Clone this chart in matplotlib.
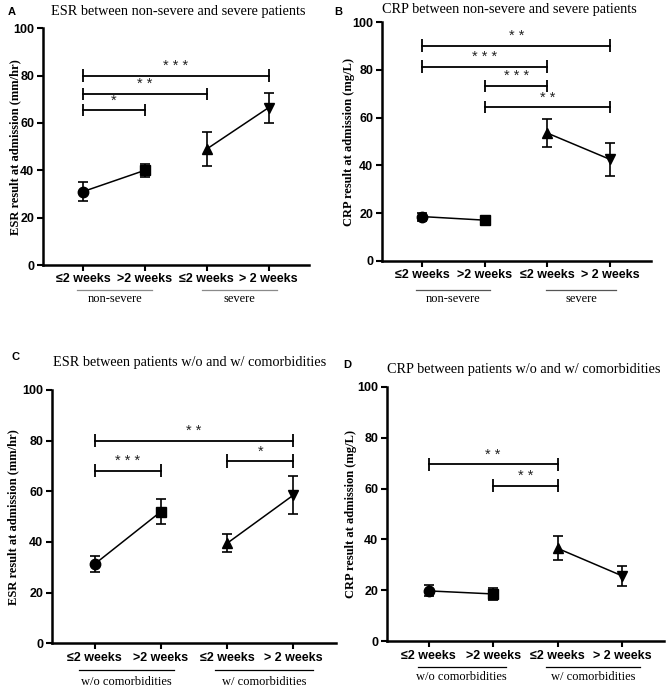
import numpy as np
import matplotlib
matplotlib.use("Agg")
import matplotlib.pyplot as plt
from matplotlib.transforms import blended_transform_factory

plt.rcParams['font.family'] = ['Liberation Sans', 'DejaVu Sans']

# ---- data ----
categories = ["≤2 weeks", ">2 weeks", "≤2 weeks", "> 2 weeks"]

esr_sev_mean = [31.0, 40.0, 49.0, 66.5]
esr_sev_err = [3.9, 2.8, 7.2, 6.3]
crp_sev_mean = [18.5, 17.0, 53.5, 42.5]
crp_sev_err = [1.7, 0.8, 6.0, 7.0]
esr_com_mean = [31.3, 52.0, 39.5, 58.5]
esr_com_err = [3.1, 5.0, 3.5, 7.4]
crp_com_mean = [19.8, 18.6, 36.5, 25.7]
crp_com_err = [2.2, 2.3, 4.7, 3.9]

# brackets: (from, to, y, label)
esr_sev_sig = [(0, 3, 80.0, "***"), (0, 2, 72.3, "**"), (0, 1, 65.6, "*")]
crp_sev_sig = [(0, 3, 90.2, "**"), (0, 2, 81.4, "***"), (1, 2, 73.4, "***"), (1, 3, 64.5, "**")]
esr_com_sig = [(0, 3, 80.0, "**"), (0, 1, 68.2, "***"), (2, 3, 72.0, "*")]
crp_com_sig = [(0, 2, 69.5, "**"), (1, 2, 61.1, "**")]

sev_groups = ["non-severe", "severe"]
com_groups = ["w/o comorbidities", "w/ comorbidities"]

markers = ["o", "s", "^", "v"]
W, H = 669, 688

fig = plt.figure(figsize=(W / 100, H / 100), dpi=100)


def panel(box, letter, letter_xy, title, title_xy, ylabel, ylabel_x, means, errs,
          sigs, groups, spans, line_px, text_px, line_color):
    left, top, right, bottom = box
    ax = fig.add_axes([left / W, 1 - bottom / H, (right - left) / W, (bottom - top) / H])
    x = np.arange(len(means))
    for a, b in [(0, 2), (2, 4)]:
        ax.plot(x[a:b], means[a:b], color="black", lw=1.1, zorder=2)
    for i in range(len(means)):
        ax.errorbar(x[i], means[i], yerr=errs[i], fmt=markers[i], color="black",
                    ms=7.5 if markers[i] != "s" else 7, capsize=3.5, elinewidth=1.2,
                    capthick=1.2, zorder=3)
    for a, b, y, lab in sigs:
        ax.plot([a, b], [y, y], color="black", lw=1.3)
        ax.vlines([a, b], y - 2.6, y + 2.6, color="black", lw=1.3)
        ax.text((a + b) / 2, y + 1.0, " ".join(lab), ha="center", va="bottom",
                fontsize=10.5, color="#222222")
    ax.set_xlim(-0.65, 3.65)
    ax.set_ylim(0, 100)
    ax.set_yticks([0, 20, 40, 60, 80, 100])
    ax.set_xticks(x)
    ax.set_xticklabels(categories, fontsize=9, fontweight="bold")
    for t in ax.get_yticklabels():
        t.set_fontsize(9)
        t.set_fontweight("bold")
    ax.tick_params(direction="out", length=4, width=1.5, pad=2)
    for s in ["top", "right"]:
        ax.spines[s].set_visible(False)
    for s in ["left", "bottom"]:
        ax.spines[s].set_linewidth(1.8)
    ax.set_ylabel(ylabel, family="Liberation Serif", fontweight="bold", fontsize=9)
    ax.yaxis.set_label_coords((ylabel_x + 6 - left) / (right - left), 0.5)
    hpx = bottom - top
    tr = blended_transform_factory(ax.transData, ax.transAxes)
    for g, (s0, s1) in zip(groups, spans):
        ax.plot([s0, s1], [-line_px / hpx] * 2, transform=tr, color=line_color,
                lw=0.9, clip_on=False)
        ax.text((s0 + s1) / 2, -text_px / hpx, g, transform=tr, ha="center",
                va="center", family="Liberation Serif", fontsize=9)
    fig.text(title_xy[0] / W, 1 - title_xy[1] / H, title, ha="center", va="center",
             family="Liberation Serif", fontsize=10.3)
    fig.text(letter_xy[0] / W, 1 - letter_xy[1] / H, letter, ha="center", va="center",
             fontweight="bold", fontsize=8)
    return ax


panel((42.7, 28.3, 308.9, 265), "A", (12, 12), "ESR between non-severe and severe patients",
      (178, 12), "ESR result at admission (mm/hr)", 15, esr_sev_mean, esr_sev_err,
      esr_sev_sig, sev_groups, [(-0.09, 1.12), (1.93, 3.14)], 25, 34, "#8a8a8a")
panel((381.7, 22.3, 650.7, 260.7), "B", (338, 12), "CRP between non-severe and severe patients",
      (509, 10), "CRP result at admission (mg/L)", 349,
      crp_sev_mean, crp_sev_err, crp_sev_sig, sev_groups,
      [(-0.1, 1.08), (1.97, 3.1)], 29, 38, "#555555")
panel((51.7, 390, 336.4, 643.3), "C", (15, 357), "ESR between patients w/o and w/ comorbidities",
      (190, 362), "ESR result at admission (mm/hr)", 13, esr_com_mean, esr_com_err,
      esr_com_sig, com_groups, [(-0.24, 1.2), (1.82, 3.3)], 27, 39, "black")
panel((386.7, 386.7, 664.1, 641.3), "D", (347, 365), "CRP between patients w/o and w/ comorbidities",
      (524, 370), "CRP result at admission (mg/L)", 351, crp_com_mean, crp_com_err,
      crp_com_sig, com_groups, [(-0.17, 1.2), (1.82, 3.28)], 26, 36, "black")

fig.savefig("out.png", dpi=100)
